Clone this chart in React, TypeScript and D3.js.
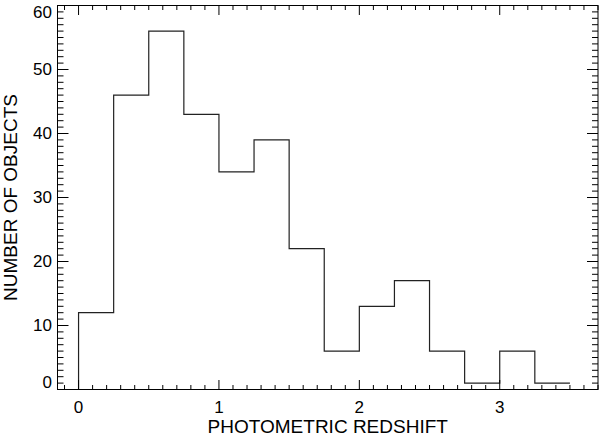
import * as d3 from 'd3';

// histogram bins (lower edges) and counts, bin width 0.25
const binEdges = [0, 0.25, 0.5, 0.75, 1, 1.25, 1.5, 1.75, 2, 2.25, 2.5, 2.75, 3, 3.25];
const counts = [12, 46, 56, 43, 34, 39, 22, 6, 13, 17, 6, 1, 6, 1];
const binWidth = 0.25;

const xMajor = [0, 1, 2, 3];
const yMajor = [0, 10, 20, 30, 40, 50, 60];

const W = 600;
const H = 437;
const margin = { left: 57.5, right: 2, top: 5.5, bottom: 47.5 };
const font = '"Liberation Sans", Arial, Helvetica, sans-serif';

export default function App() {
  const x = d3.scaleLinear().domain([-0.15, 3.7]).range([margin.left, W - margin.right]);
  const y = d3.scaleLinear().domain([0, 60]).range([H - margin.bottom, margin.top]);
  const [x0, x1] = x.range();
  const [yb, yt] = y.range();

  const xMinor = d3.range(-1, 38).map(i => i / 10).filter(v => !xMajor.some(m => Math.abs(m - v) < 1e-6));
  const yMinor = d3.range(0, 61).filter(v => v % 10 !== 0);

  const pts: [number, number][] = [[binEdges[0], 0]];
  binEdges.forEach((e, i) => pts.push([e, counts[i]]));
  pts.push([binEdges[binEdges.length - 1] + binWidth, counts[counts.length - 1]]);
  const line = d3.line<[number, number]>()
    .x(d => x(d[0]))
    .y(d => y(d[1]))
    .curve(d3.curveStepAfter);

  const tick = (key: string, xa: number, ya: number, xb: number, yb2: number) => (
    <line key={key} x1={xa} y1={ya} x2={xb} y2={yb2} stroke="#000" strokeWidth={1} />
  );

  return (
    <div style={{ position: 'absolute', left: 0, top: 0 }}>
      <svg width={W} height={H} style={{ display: 'block', background: '#fff' }}>
        <path d={line(pts) || ''} fill="none" stroke="#222" strokeWidth={1.2} />

        <rect x={x0} y={yt} width={x1 - x0} height={yb - yt} fill="none" stroke="#000" strokeWidth={1} />

        {xMajor.map(v => [
          tick(`xb${v}`, x(v), yb, x(v), yb - 9.5),
          tick(`xt${v}`, x(v), yt, x(v), yt + 9.5),
        ])}
        {xMinor.map(v => [
          tick(`xbm${v}`, x(v), yb, x(v), yb - 4.5),
          tick(`xtm${v}`, x(v), yt, x(v), yt + 4.5),
        ])}
        {yMajor.map(v => [
          tick(`yl${v}`, x0, y(v), x0 + 11, y(v)),
          tick(`yr${v}`, x1, y(v), x1 - 11, y(v)),
        ])}
        {yMinor.map(v => [
          tick(`ylm${v}`, x0, y(v), x0 + 6, y(v)),
          tick(`yrm${v}`, x1, y(v), x1 - 6, y(v)),
        ])}

        {xMajor.map(v => (
          <text key={`xl${v}`} x={x(v)} y={413} textAnchor="middle" fontSize={17} fontFamily={font} fill="#000">
            {v}
          </text>
        ))}
        {yMajor.map(v => {
          // end labels are pulled inward like the original plot
          let cy = y(v);
          if (v === 0) cy -= 7;
          if (v === 60) cy += 7;
          return (
            <text key={`yl${v}`} x={52} y={cy} dy="0.35em" textAnchor="end" fontSize={17} fontFamily={font} fill="#000">
              {v}
            </text>
          );
        })}

        <text x={(x0 + x1) / 2} y={433} textAnchor="middle" fontSize={19} fontFamily={font} fill="#000">
          PHOTOMETRIC REDSHIFT
        </text>
        <text
          transform={`translate(16.5,${(yb + yt) / 2}) rotate(-90)`}
          textAnchor="middle"
          fontSize={19}
          fontFamily={font}
          fill="#000"
        >
          NUMBER OF OBJECTS
        </text>
      </svg>
    </div>
  );
}
